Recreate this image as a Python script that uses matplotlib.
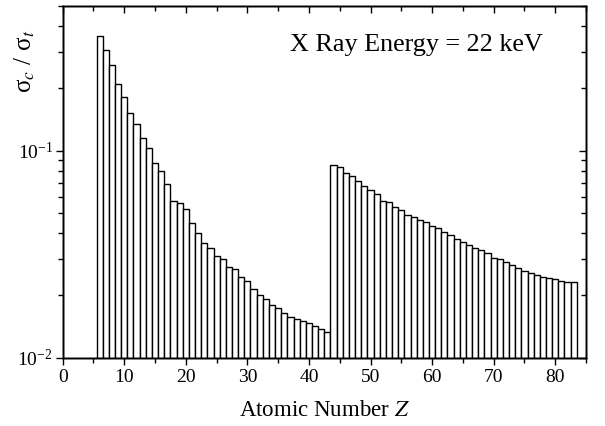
import numpy as np
import matplotlib
matplotlib.use("Agg")
import matplotlib.pyplot as plt
from matplotlib.ticker import LogLocator, MultipleLocator, NullFormatter

plt.rcParams['font.family'] = ['Liberation Serif', 'DejaVu Serif']
plt.rcParams['mathtext.fontset'] = 'stix'

# Data
atomic_number = list(range(6, 84))
ratio = [
    0.360, 0.307, 0.258, 0.210, 0.182, 0.152, 0.1346, 0.1152, 0.1026, 0.0872,
    0.0794, 0.0690, 0.0575, 0.0559, 0.0523, 0.0447, 0.0400, 0.0358, 0.0341, 0.0309,
    0.0300, 0.0276, 0.0268, 0.0245, 0.0234, 0.0215, 0.0202, 0.0192, 0.0180, 0.0174,
    0.0164, 0.0158, 0.0154, 0.0151, 0.0147, 0.0142, 0.0138, 0.0133,
    0.0856, 0.0831, 0.0780, 0.0757, 0.0711, 0.0677, 0.0643, 0.0618, 0.0575, 0.0567,
    0.0532, 0.0515, 0.0491, 0.0476, 0.0461, 0.0455, 0.0431, 0.0423, 0.0406, 0.0394,
    0.0376, 0.0363, 0.0352, 0.0341, 0.0330, 0.0321, 0.0305, 0.0300, 0.0291, 0.0281,
    0.0273, 0.0264, 0.0257, 0.0252, 0.0247, 0.0244, 0.0240, 0.0236, 0.0233, 0.0232,
]
annotation = "X Ray Energy = 22 keV"
x_limits = (0, 85)
y_limits = (0.01, 0.5)

fig = plt.figure(figsize=(6.05, 4.26), dpi=100)
ax = fig.add_axes([0.1036, 0.160, 0.865, 0.826])

ax.bar(atomic_number, ratio, width=1.0, bottom=0.0, color='white',
       edgecolor='black', linewidth=1.0, align='center')

def style_axes(a):
    a.set_xlim(*x_limits)
    a.set_yscale('log')
    a.set_ylim(*y_limits)
    a.xaxis.set_major_locator(MultipleLocator(10))
    a.xaxis.set_minor_locator(MultipleLocator(5))
    a.yaxis.set_major_locator(LogLocator(base=10, numticks=10))
    a.yaxis.set_minor_locator(LogLocator(base=10, subs=np.arange(2, 10), numticks=20))
    a.yaxis.set_minor_formatter(NullFormatter())

style_axes(ax)
ax.tick_params(axis='both', which='both', direction='out', top=False, right=False,
               labelsize=14, width=1.0)
ax.tick_params(axis='both', which='major', length=5)
ax.tick_params(axis='both', which='minor', length=3.5)
ax.tick_params(axis='x', which='both', pad=3)
ax.tick_params(axis='y', which='both', pad=2)

# Inward ticks on the top and right
ax_top = ax.twiny()
style_axes(ax_top)
ax_top.tick_params(axis='x', which='both', direction='in', top=True, bottom=False,
                   labeltop=False, labelbottom=False, width=1.0)
ax_top.tick_params(axis='x', which='major', length=5)
ax_top.tick_params(axis='x', which='minor', length=3.5)
ax_top.tick_params(axis='y', which='both', left=False, right=False,
                   labelleft=False, labelright=False)

ax_right = ax.twinx()
style_axes(ax_right)
ax_right.tick_params(axis='y', which='both', direction='in', right=True, left=False,
                     labelright=False, labelleft=False, width=1.0)
ax_right.tick_params(axis='y', which='major', length=5)
ax_right.tick_params(axis='y', which='minor', length=3.5)
ax_right.tick_params(axis='x', which='both', top=False, bottom=False,
                     labeltop=False, labelbottom=False)

for a in (ax, ax_top, ax_right):
    for sp in a.spines.values():
        sp.set_linewidth(1.0)

ax.set_xlabel(r'Atomic Number $\mathit{Z}$', fontsize=16.5, labelpad=10)

fig.text(0.041, 0.856, r'σ$_{c}$ / σ$_{t}$', rotation=90, fontsize=18,
         ha='center', va='center')

ax.text(0.918, 0.889, annotation, transform=ax.transAxes, fontsize=18.8,
        ha='right', va='center')

fig.savefig('out.png', dpi=100)
